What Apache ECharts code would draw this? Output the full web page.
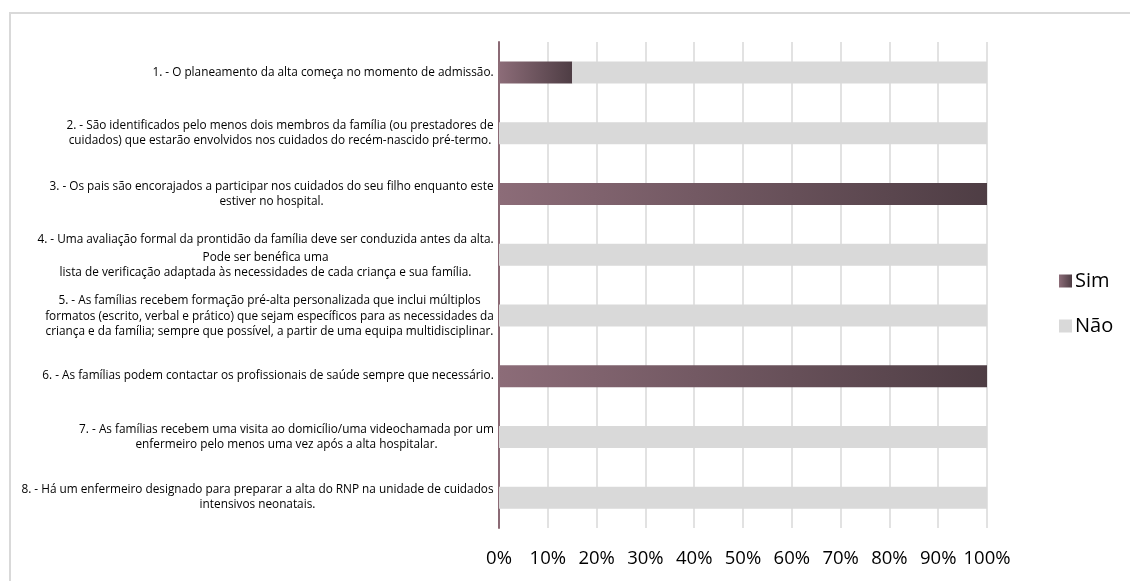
<!DOCTYPE html>
<html>
<head>
<meta charset="utf-8">
<script src="https://cdn.jsdelivr.net/npm/echarts@6/dist/echarts.min.js"></script>
<style>
  html, body { margin: 0; padding: 0; background: #fff; }
  #chart { width: 1130px; height: 581px; }
</style>
</head>
<body>
<div id="chart"></div>
<script>
// Survey statements, each entry holds the wrapped lines of one label
const categories = [
  ['1. - O planeamento da alta começa no momento de admissão.'],
  ['2. - São identificados pelo menos dois membros da família (ou prestadores de',
   'cuidados) que estarão envolvidos nos cuidados do recém-nascido pré-termo.'],
  ['3. - Os pais são encorajados a participar nos cuidados do seu filho enquanto este',
   'estiver no hospital.'],
  ['4. - Uma avaliação formal da prontidão da família deve ser conduzida antes da alta.',
   'Pode ser benéfica uma',
   'lista de verificação adaptada às necessidades de cada criança e sua família.'],
  ['5. - As famílias recebem formação pré-alta personalizada que inclui múltiplos',
   'formatos (escrito, verbal e prático) que sejam específicos para as necessidades da',
   'criança e da família; sempre que possível, a partir de uma equipa multidisciplinar.'],
  ['6. - As famílias podem contactar os profissionais de saúde sempre que necessário.'],
  ['7. - As famílias recebem uma visita ao domicílio/uma videochamada por um',
   'enfermeiro pelo menos uma vez após a alta hospitalar.'],
  ['8. - Há um enfermeiro designado para preparar a alta do RNP na unidade de cuidados',
   'intensivos neonatais.']
];
const seriesNames = ['Sim', 'Não'];
const simValues = [15, 0, 100, 0, 0, 100, 0, 0];
const naoValues = [85, 100, 0, 100, 100, 0, 100, 100];
const xTicks = [0, 10, 20, 30, 40, 50, 60, 70, 80, 90, 100];

const LABEL_FONT = 'Open Sans';
const LABEL_SIZE = 11.8;
const LINE_H = 15;
// extra paragraph spacing after the first line of the longer statements
const firstLineExtra = [0, 0, 0, 6, 2, 0, 0, 0];

// Measure lines so each multi-line label is centred within its own block
const ctx = document.createElement('canvas').getContext('2d');
ctx.font = LABEL_SIZE + 'px "' + LABEL_FONT + '"';
const blockWidths = categories.map(lines =>
  Math.ceil(Math.max.apply(null, lines.map(l => ctx.measureText(l).width))) + 2
);
const catKeys = categories.map((_, i) => 'c' + i);
const rich = {};
catKeys.forEach((k, i) => {
  const base = { width: blockWidths[i], align: 'center', fontFamily: LABEL_FONT,
                 fontSize: LABEL_SIZE, color: '#000' };
  rich[k] = Object.assign({ lineHeight: LINE_H }, base);
  rich[k + 'f'] = Object.assign({ lineHeight: LINE_H + firstLineExtra[i] }, base);
});

const chart = echarts.init(document.getElementById('chart'), null, { renderer: 'canvas' });
chart.setOption({
  animation: false,
  backgroundColor: '#fff',
  graphic: [{
    type: 'rect',
    shape: { x: 10, y: 13, width: 1200, height: 700 },
    style: { fill: 'none', stroke: '#d9d9d9', lineWidth: 2 },
    silent: true
  }],
  grid: { left: 499, right: 143, top: 42, bottom: 53 },
  legend: {
    orient: 'vertical',
    left: 1054,
    top: 266,
    itemWidth: 13,
    itemHeight: 13,
    itemGap: 25,
    icon: 'rect',
    textStyle: { fontFamily: LABEL_FONT, fontSize: 20, color: '#000', padding: [0, 0, 0, -2] },
    data: seriesNames
  },
  xAxis: {
    type: 'value',
    min: 0,
    max: 100,
    interval: 10,
    axisLine: { show: false },
    axisTick: { show: false },
    splitLine: { show: true, lineStyle: { color: '#d9d9d9', width: 1.5 } },
    axisLabel: {
      margin: 21,
      fontFamily: LABEL_FONT,
      fontSize: 18.5,
      color: '#000',
      customValues: xTicks,
      formatter: v => v + '%'
    }
  },
  yAxis: {
    type: 'category',
    inverse: true,
    data: catKeys,
    axisTick: { show: false },
    axisLine: { show: true, lineStyle: { color: '#8b6a75', width: 2 } },
    axisLabel: {
      margin: 4,
      interval: 0,
      formatter: (k, i) => categories[i]
        .map((l, j) => '{' + k + (j === 0 ? 'f' : '') + '|' + l + '}')
        .join('\n'),
      rich: rich
    }
  },
  series: [
    {
      name: seriesNames[0],
      type: 'bar',
      stack: 'total',
      barWidth: 22,
      data: simValues,
      itemStyle: {
        color: new echarts.graphic.LinearGradient(0, 0, 1, 0, [
          { offset: 0, color: '#8c6c78' },
          { offset: 1, color: '#4e3d44' }
        ])
      }
    },
    {
      name: seriesNames[1],
      type: 'bar',
      stack: 'total',
      barWidth: 22,
      data: naoValues,
      itemStyle: { color: '#d9d9d9' }
    }
  ]
});
</script>
</body>
</html>
